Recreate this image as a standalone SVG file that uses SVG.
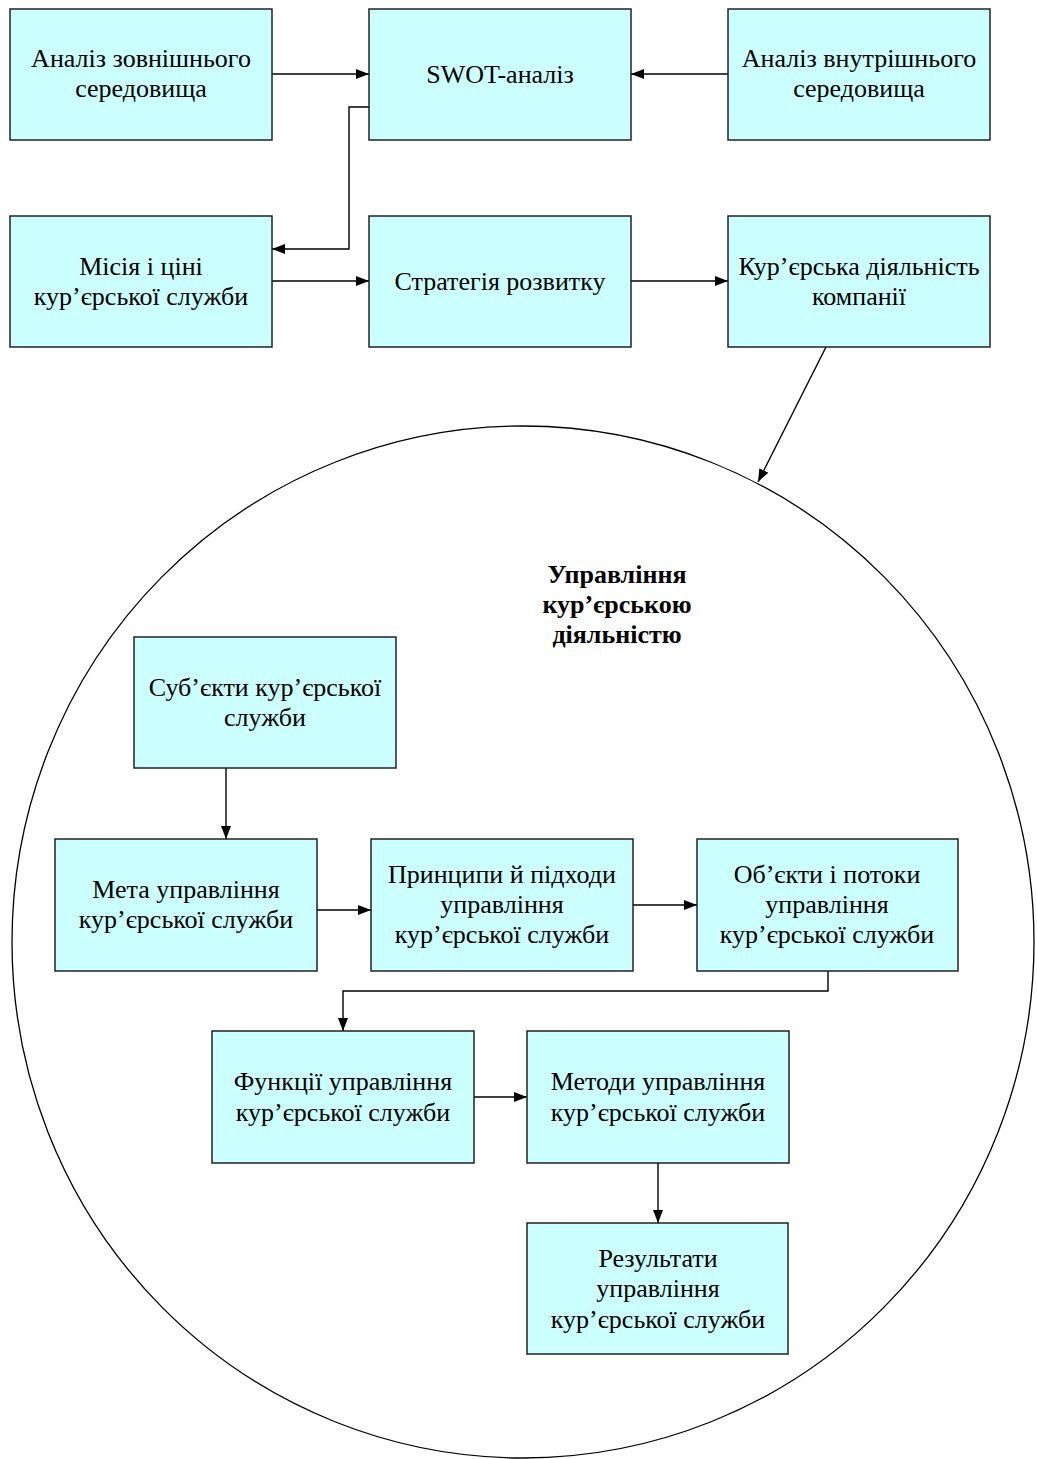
<svg xmlns="http://www.w3.org/2000/svg" width="1037" height="1459" viewBox="0 0 1037 1459">
<defs>
<style>
.box{fill:#CCFFFF;stroke:#222;stroke-width:1.5}
.t{font-family:"Liberation Serif","Times New Roman",serif;font-size:26px;fill:#000;text-anchor:middle}
.tb{font-family:"Liberation Serif","Times New Roman",serif;font-size:26px;font-weight:bold;fill:#000;text-anchor:middle}
.c{fill:none;stroke:#000;stroke-width:1.4}
</style>
<marker id="ah" markerWidth="13" markerHeight="10" refX="13" refY="5" orient="auto" markerUnits="userSpaceOnUse">
<path d="M0,0 L13,5 L0,10 Z" fill="#000"/>
</marker>
</defs>
<rect width="1037" height="1459" fill="#fff"/>
<ellipse id="circle" cx="523" cy="942" rx="511" ry="516" fill="none" stroke="#000" stroke-width="1.3"/>
<g id="title"><text class="tb" x="617" y="583">Управління</text><text class="tb" x="617" y="613">кур’єрською</text><text class="tb" x="617" y="643">діяльністю</text></g>
<g id="connectors">
<path class="c" d="M272,74 H369" marker-end="url(#ah)"/>
<path class="c" d="M728,74 H631" marker-end="url(#ah)"/>
<path class="c" d="M369,107 H349 V249 H272" marker-end="url(#ah)"/>
<path class="c" d="M272,281 H369" marker-end="url(#ah)"/>
<path class="c" d="M631,281 H728" marker-end="url(#ah)"/>
<path class="c" d="M826,347 L758,482" marker-end="url(#ah)"/>
<path class="c" d="M226,768 V839" marker-end="url(#ah)"/>
<path class="c" d="M317,910 H371" marker-end="url(#ah)"/>
<path class="c" d="M633,905 H697" marker-end="url(#ah)"/>
<path class="c" d="M828,971 V991 H343 V1031" marker-end="url(#ah)"/>
<path class="c" d="M474,1097 H527" marker-end="url(#ah)"/>
<path class="c" d="M658,1163 V1223" marker-end="url(#ah)"/>
</g>
<g id="n1"><rect class="box" x="10" y="9" width="262" height="131"/><text class="t" x="141" y="67">Аналіз зовнішнього</text><text class="t" x="141" y="97">середовища</text></g>
<g id="n2"><rect class="box" x="369" y="9" width="262" height="131"/><text class="t" x="500" y="83">SWOT-аналіз</text></g>
<g id="n3"><rect class="box" x="728" y="9" width="262" height="131"/><text class="t" x="859" y="67">Аналіз внутрішнього</text><text class="t" x="859" y="97">середовища</text></g>
<g id="n4"><rect class="box" x="10" y="216" width="262" height="131"/><text class="t" x="141" y="275">Місія і ціні</text><text class="t" x="141" y="305">кур’єрської служби</text></g>
<g id="n5"><rect class="box" x="369" y="216" width="262" height="131"/><text class="t" x="500" y="290">Стратегія розвитку</text></g>
<g id="n6"><rect class="box" x="728" y="216" width="262" height="131"/><text class="t" x="859" y="275">Кур’єрська діяльність</text><text class="t" x="859" y="305">компанії</text></g>
<g id="n7"><rect class="box" x="134" y="637" width="262" height="131"/><text class="t" x="265" y="696">Суб’єкти кур’єрської</text><text class="t" x="265" y="726">служби</text></g>
<g id="n8"><rect class="box" x="55" y="839" width="262" height="132"/><text class="t" x="186" y="898">Мета управління</text><text class="t" x="186" y="928">кур’єрської служби</text></g>
<g id="n9"><rect class="box" x="371" y="839" width="262" height="132"/><text class="t" x="502" y="883">Принципи й підходи</text><text class="t" x="502" y="913">управління</text><text class="t" x="502" y="943">кур’єрської служби</text></g>
<g id="n10"><rect class="box" x="697" y="839" width="261" height="132"/><text class="t" x="827" y="883">Об’єкти і потоки</text><text class="t" x="827" y="913">управління</text><text class="t" x="827" y="943">кур’єрської служби</text></g>
<g id="n11"><rect class="box" x="212" y="1031" width="262" height="132"/><text class="t" x="343" y="1090">Функції управління</text><text class="t" x="343" y="1121">кур’єрської служби</text></g>
<g id="n12"><rect class="box" x="527" y="1031" width="262" height="132"/><text class="t" x="658" y="1090">Методи управління</text><text class="t" x="658" y="1121">кур’єрської служби</text></g>
<g id="n13"><rect class="box" x="527" y="1223" width="261" height="131"/><text class="t" x="658" y="1267">Результати</text><text class="t" x="658" y="1297">управління</text><text class="t" x="658" y="1328">кур’єрської служби</text></g>
</svg>
